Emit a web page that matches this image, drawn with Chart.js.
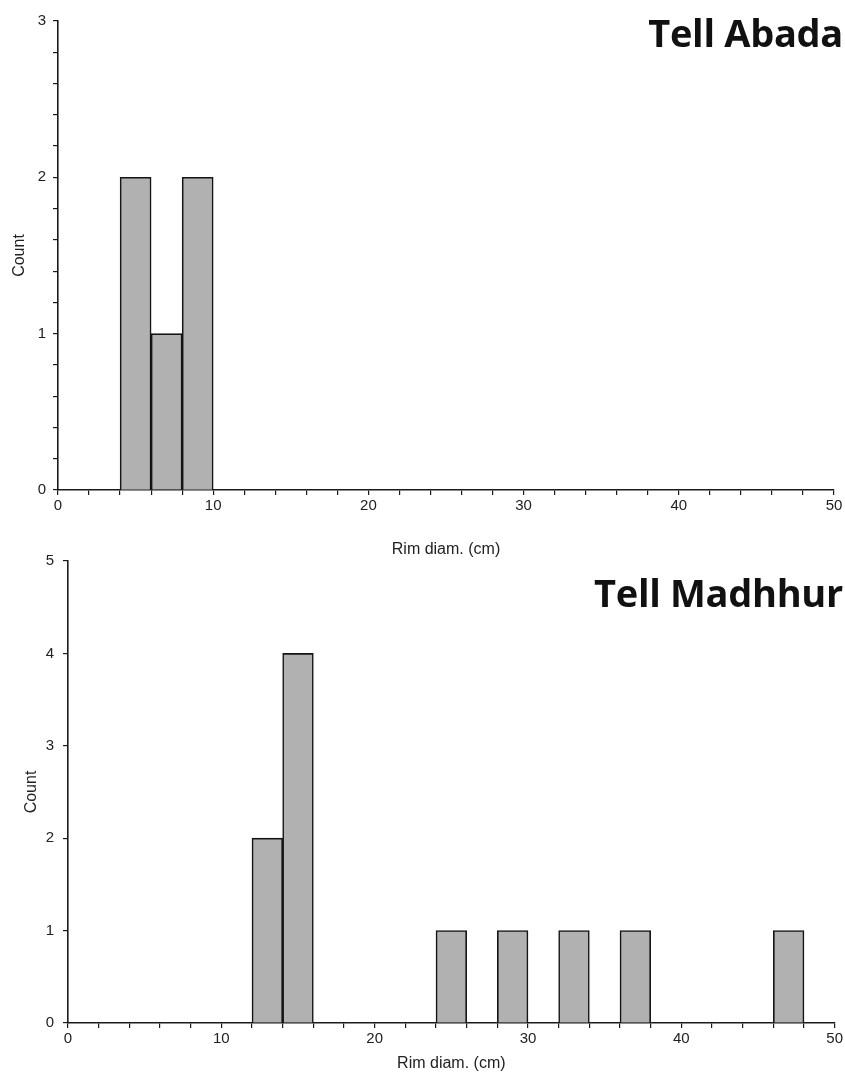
<!DOCTYPE html>
<html>
<head>
<meta charset="utf-8">
<title>Rim diameters</title>
<script src="https://cdn.jsdelivr.net/npm/chart.js@4/dist/chart.umd.min.js"></script>
<style>
  html, body { margin: 0; padding: 0; background: #fff; }
  #page { position: relative; width: 845px; height: 1075px; overflow: hidden; }
  .panel { position: absolute; left: 0; width: 845px; }
  #abadaWrap { top: 0; height: 565px; }
  #madhhurWrap { top: 535px; height: 540px; }
  .site {
    position: absolute; right: 2px; margin: 0;
    font-family: "Open Sans", sans-serif; font-weight: 700;
    font-size: 38px; line-height: 38px; color: #111; white-space: nowrap;
    letter-spacing: -0.3px;
  }
  #abadaTitle { top: 13px; }
  #madhhurTitle { top: 573px; }
</style>
</head>
<body>
<div id="page">
  <div class="panel" id="abadaWrap"><canvas id="abada"></canvas></div>
  <div class="panel" id="madhhurWrap"><canvas id="madhhur"></canvas></div>
  <div class="site" id="abadaTitle">Tell Abada</div>
  <div class="site" id="madhhurTitle">Tell Madhhur</div>
</div>
<script>
// Histogram bins are 2 cm wide; each array holds the lower edge of a bin and its count.
const binWidth = 2;

const abadaBinStarts = [4, 6, 8];
const abadaCounts    = [2, 1, 2];

const madhhurBinStarts = [12, 14, 24, 28, 32, 36, 46];
const madhhurCounts    = [2, 4, 1, 1, 1, 1, 1];

const xAxisTitle = 'Rim diam. (cm)';
const yAxisTitle = 'Count';
const xMin = 0, xMax = 50, xMajor = 10;

const tickFont = { family: "'Liberation Sans', Arial, sans-serif", size: 15 };
const titleFont = { family: "'Liberation Sans', Arial, sans-serif", size: 16 };
const ink = '#1a1a1a';

function isMultiple(v, step) {
  const r = v / step;
  return Math.abs(r - Math.round(r)) < 1e-6;
}

function makeHistogram(canvasId, binStarts, counts, cfg) {
  const points = binStarts.map((s, i) => ({ x: s + binWidth / 2, y: counts[i] }));
  return new Chart(document.getElementById(canvasId), {
    type: 'bar',
    data: {
      datasets: [{
        data: points,
        backgroundColor: '#b1b1b1',
        borderColor: '#141414',
        borderWidth: 1.6,
        barPercentage: 1,
        categoryPercentage: 1
      }]
    },
    options: {
      responsive: true,
      maintainAspectRatio: false,
      animation: false,
      events: [],
      layout: { padding: { top: cfg.padTop, right: cfg.padRight, left: 0, bottom: 0 } },
      plugins: { legend: { display: false }, tooltip: { enabled: false } },
      scales: {
        x: {
          type: 'linear',
          min: xMin, max: xMax,
          offset: false,
          grid: { offset: false, drawOnChartArea: false, drawTicks: true, tickLength: 5, color: ink, lineWidth: 1.2 },
          border: { display: true, color: ink, width: 1.6 },
          ticks: {
            stepSize: 2, autoSkip: false, maxRotation: 0, color: '#222', font: tickFont, padding: 2,
            callback: v => isMultiple(v, xMajor) ? String(Math.round(v)) : ''
          },
          title: { display: true, text: xAxisTitle, color: '#222', font: titleFont, padding: { top: 0, bottom: cfg.xTitlePad } },
          afterFit: s => { s.height = cfg.xAxisHeight; }
        },
        y: {
          min: 0, max: cfg.yMax,
          grid: { drawOnChartArea: false, drawTicks: true, tickLength: 5, color: ink, lineWidth: 1.2 },
          border: { display: true, color: ink, width: 1.6 },
          ticks: {
            stepSize: cfg.yStep, autoSkip: false, color: '#222', font: tickFont, padding: cfg.yTickPad,
            callback: v => isMultiple(v, 1) ? String(Math.round(v)) : ''
          },
          title: { display: true, text: yAxisTitle, color: '#222', font: titleFont, padding: { top: cfg.yTitlePad, bottom: 0 } },
          afterFit: s => { s.width = cfg.yAxisWidth; }
        }
      }
    }
  });
}

makeHistogram('abada', abadaBinStarts, abadaCounts, {
  padTop: 21, padRight: 11, yMax: 3, yStep: 0.2,
  yAxisWidth: 58, xAxisHeight: 75, xTitlePad: 6, yTitlePad: 10, yTickPad: 7
});

makeHistogram('madhhur', madhhurBinStarts, madhhurCounts, {
  padTop: 26, padRight: 10, yMax: 5, yStep: 1,
  yAxisWidth: 68, xAxisHeight: 52, xTitlePad: 2, yTitlePad: 22, yTickPad: 9
});
</script>
</body>
</html>
